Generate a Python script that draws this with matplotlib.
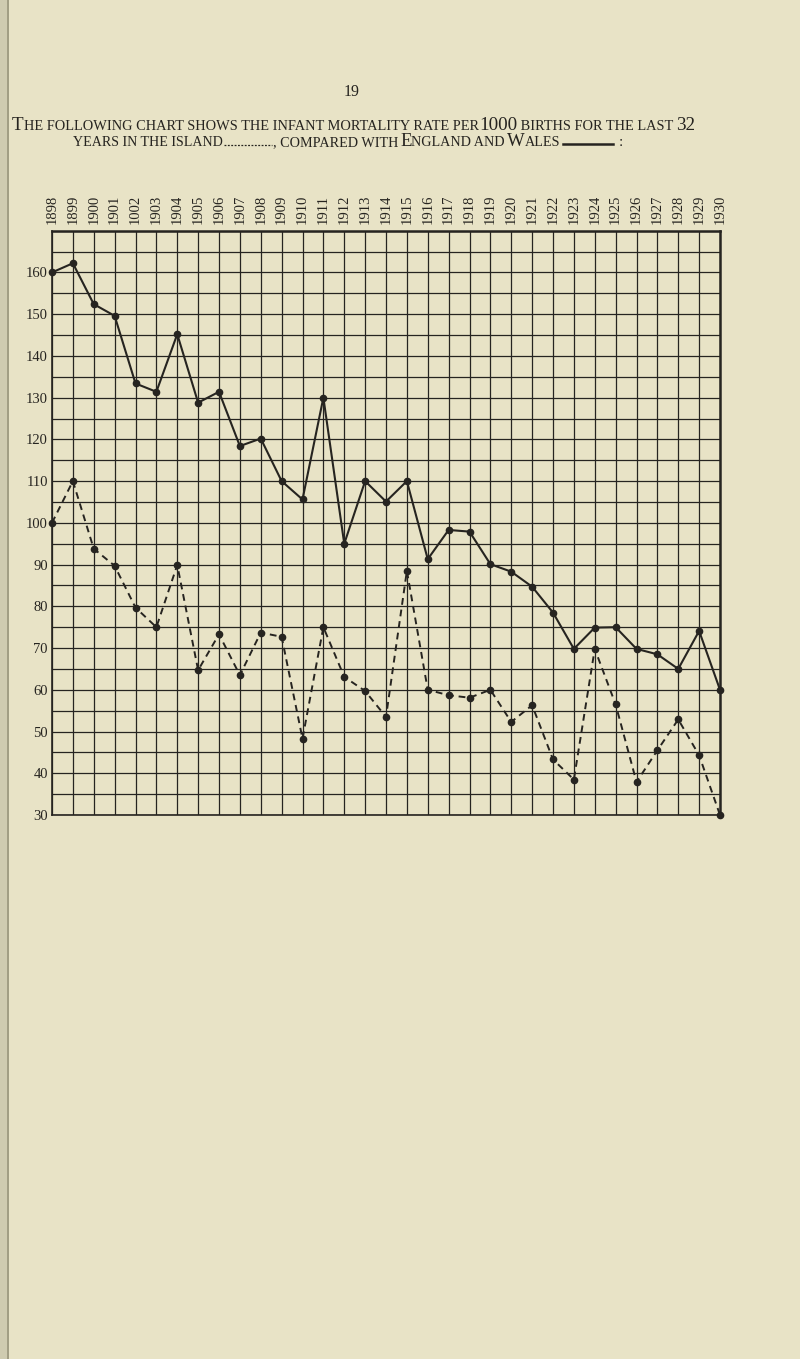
import matplotlib
matplotlib.use('Agg')
import matplotlib.pyplot as plt
from matplotlib.lines import Line2D
from matplotlib.patches import Rectangle

years = list(range(1898, 1931))
year_labels = ['1898', '1899', '1900', '1901', '1002', '1903', '1904', '1905',
               '1906', '1907', '1908', '1909', '1910', '1911', '1912', '1913',
               '1914', '1915', '1916', '1917', '1918', '1919', '1920', '1921',
               '1922', '1923', '1924', '1925', '1926', '1927', '1928', '1929',
               '1930']

england_wales = [160, 162.2, 152.4, 149.6, 133.4, 131.4, 145.2, 128.8, 131.4,
                 118.4, 120.2, 110, 105.6, 130, 95, 110, 105.1, 110, 91.3, 98.3,
                 97.9, 90.1, 88.3, 84.7, 78.5, 69.8, 74.9, 75, 69.8, 68.5, 65,
                 74.1, 60]
island = [100, 110, 93.8, 89.7, 79.7, 75, 89.9, 64.7, 73.3, 63.5, 73.7, 72.7,
          48.3, 75, 63.1, 59.7, 53.5, 88.5, 60, 58.7, 58.1, 60, 52.3, 56.3,
          43.3, 38.5, 69.8, 56.5, 37.9, 45.5, 52.9, 44.3, 30]

y_labels = list(range(30, 161, 10))

W, H = 800, 1359
paper = '#e8e3c6'
ink = '#262420'
serif = ['Liberation Serif', 'DejaVu Serif']

fig = plt.figure(figsize=(W / 100, H / 100), dpi=100, facecolor=paper)


def fx(px):
    return px / W


def fy(py):
    return 1 - py / H


# page binding strip on the left
fig.patches.append(Rectangle((0, 0), fx(9), 1, transform=fig.transFigure,
                             facecolor='#cfcbb0', edgecolor='none'))
fig.lines.append(Line2D([fx(8), fx(8)], [0, 1], transform=fig.transFigure,
                        color='#9a957c', lw=1.2))

ax = fig.add_axes([fx(52), fy(815), fx(720) - fx(52), fy(230.7) - fy(815)])
ax.set_facecolor(paper)
ax.set_xlim(1898, 1930)
ax.set_ylim(30, 170)

ax.set_xticks(years)
ax.set_xticklabels(year_labels, rotation=90, fontsize=10.5, family=serif, color=ink)
ax.xaxis.tick_top()
ax.tick_params(axis='x', length=0, pad=5)

yt = list(range(30, 171, 5))
ax.set_yticks(yt)
ax.set_yticklabels([str(v) if v in y_labels else '' for v in yt],
                   fontsize=10.5, family=serif, color=ink)
ax.tick_params(axis='y', length=0, pad=3)

ax.grid(True, color=ink, lw=0.9)
ax.set_axisbelow(True)
for s in ax.spines.values():
    s.set_color(ink)
    s.set_linewidth(1.2)
ax.spines['top'].set_linewidth(1.8)
ax.spines['right'].set_linewidth(1.8)

ax.plot(years, england_wales, color=ink, lw=1.5, marker='o', ms=4.5,
        clip_on=False, zorder=5)
ax.plot(years, island, color=ink, lw=1.4, ls=(0, (3.5, 2.5)), marker='o', ms=4.5,
        clip_on=False, zorder=5)

# page number
fig.text(fx(352), fy(92), '19', fontsize=11.5, family=serif, color=ink,
         ha='center', va='center')

renderer = fig.canvas.get_renderer()


def small_caps(x0, base, parts, big, small, width=None):
    texts = []
    for s, is_big in parts:
        t = fig.text(0, fy(base), s, fontsize=big if is_big else small,
                     family=serif, color=ink, ha='left', va='baseline')
        texts.append((t, is_big))
    ws = [t.get_window_extent(renderer).width for t, _ in texts]
    k = 1.0
    if width:
        k = width / sum(ws)
        for t, is_big in texts:
            t.set_fontsize((big if is_big else small) * k)
        ws = [w * k for w in ws]
    x = x0
    for (t, _), w in zip(texts, ws):
        t.set_x(fx(x))
        x += w
    return x


line1 = [('T', True), ('HE FOLLOWING CHART SHOWS THE INFANT MORTALITY RATE PER ', False),
         ('1000', True), (' BIRTHS FOR THE LAST ', False), ('32', True)]
small_caps(12, 129.5, line1, 12, 9, width=683)

small_caps(73, 146.5, [('YEARS IN THE ISLAND', False)], 12, 9, width=149)
fig.lines.append(Line2D([fx(224), fx(272)], [fy(145), fy(145)],
                        transform=fig.transFigure, color=ink, lw=0.9,
                        ls=(0, (1.5, 1.2))))
line2 = [(', COMPARED WITH ', False), ('E', True), ('NGLAND AND ', False),
         ('W', True), ('ALES', False)]
small_caps(273, 146.5, line2, 12, 9, width=287)
fig.lines.append(Line2D([fx(563), fx(613)], [fy(144.3), fy(144.3)],
                        transform=fig.transFigure, color=ink, lw=1.8))
fig.text(fx(619), fy(146.5), ':', fontsize=11, family=serif, color=ink,
         ha='left', va='baseline')

fig.savefig('out.png', dpi=100, facecolor=paper)
